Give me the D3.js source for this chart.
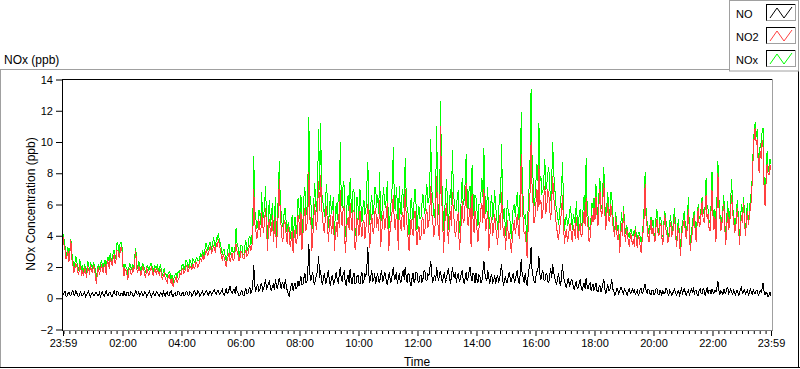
<!DOCTYPE html>
<html><head><meta charset="utf-8">
<script src="https://cdn.jsdelivr.net/npm/d3@7"></script>
<style>
html,body{margin:0;padding:0;background:#fff;overflow:hidden}
svg{display:block;font-family:"Liberation Sans",Arial,sans-serif}
</style></head><body>
<svg id="c" width="800" height="369"></svg>
<script>
// ---- data ----
const seriesNames = ["NO", "NO2", "NOx"];
const seriesColors = ["#000000", "#ff4040", "#00ff00"];
const yTicks = [-2, 0, 2, 4, 6, 8, 10, 12, 14];
const xTickMinutes = [0, 121, 241, 361, 481, 601, 721, 841, 961, 1081, 1201, 1321, 1440];
const xTickLabels = ["23:59", "02:00", "04:00", "06:00", "08:00", "10:00", "12:00", "14:00", "16:00", "18:00", "20:00", "22:00", "23:59"];
const stepMinutes = 2; // one sample every 2 minutes, starting 23:59

const NO2 = [
3.9,3.4,3.1,2.5,2.7,3.0,2.3,2.9,3.7,2.5,2.2,1.6,1.9,2.2,2.1,1.7,1.5,2.1,2.0,1.4,
1.8,1.4,2.0,1.7,1.3,2.0,1.9,1.5,2.1,1.8,1.6,2.1,1.9,1.4,0.9,1.7,2.0,1.5,1.8,2.1,
1.9,1.6,2.2,2.0,1.5,2.4,2.3,1.9,2.6,2.3,2.1,2.6,2.8,2.2,2.5,3.1,3.0,2.6,2.9,3.3,
3.0,2.0,1.4,1.9,1.8,1.5,1.2,1.8,1.9,1.6,1.5,2.0,1.7,2.4,3.0,1.9,1.6,2.0,1.9,1.4,
1.7,2.0,1.9,1.5,1.3,1.9,1.8,1.4,1.6,1.9,2.0,1.6,1.4,1.9,1.8,1.5,1.9,1.6,1.5,1.8,
1.6,1.2,1.4,1.6,1.3,1.1,1.0,1.4,1.5,1.2,0.9,1.3,0.7,1.0,1.2,1.4,1.0,1.2,1.3,1.6,
1.5,1.8,1.9,1.6,1.7,2.0,2.1,1.7,1.8,2.1,2.0,1.8,2.2,2.0,1.9,2.3,2.3,2.0,2.1,2.4,
2.5,2.3,2.8,2.5,2.6,3.0,3.1,2.7,2.9,3.2,3.3,2.9,3.0,3.4,3.2,2.9,3.5,3.3,3.8,3.4,
3.1,2.7,2.4,2.8,2.6,2.3,2.0,2.5,2.7,2.9,2.3,2.6,2.9,2.4,2.5,3.0,3.5,3.0,2.8,2.4,
2.6,3.0,2.9,2.6,2.5,2.9,3.1,2.7,2.8,3.2,3.4,3.0,3.3,3.9,7.0,4.8,4.4,3.8,4.0,5.1,
4.6,3.9,5.5,4.7,4.2,5.0,5.8,4.5,3.0,4.6,5.1,4.0,4.4,5.3,3.6,4.5,5.2,3.2,4.3,5.6,
7.6,5.2,4.5,3.6,3.9,5.0,4.8,4.0,3.5,4.6,4.2,3.3,3.7,4.3,2.9,3.9,4.4,3.5,3.8,5.3,
4.9,4.0,5.5,3.1,4.1,5.2,5.8,4.3,4.6,5.4,8.1,5.0,5.2,3.0,3.9,5.1,6.0,4.7,4.4,5.8,
7.5,5.6,7.9,5.8,5.1,4.4,4.2,5.5,5.9,4.6,3.6,4.8,5.3,4.1,4.7,5.6,3.0,4.2,4.9,3.9,
5.4,4.5,6.9,5.0,4.6,5.9,5.7,2.9,3.8,4.9,5.2,4.4,6.1,5.0,4.3,5.6,5.5,3.1,3.6,5.1,
4.7,4.0,5.6,4.6,3.9,4.8,5.0,3.8,4.4,5.3,6.0,4.4,3.2,4.6,5.4,4.3,4.1,5.5,5.8,4.5,
5.2,4.3,6.3,3.3,4.0,5.1,5.6,4.4,4.6,5.7,6.1,3.0,3.6,4.8,5.0,5.9,6.6,4.7,4.4,5.4,
4.9,3.1,5.8,4.7,4.3,5.5,5.3,4.4,7.0,5.3,4.6,3.8,3.0,4.2,5.1,4.4,4.0,5.2,5.6,4.3,
3.4,4.2,4.6,3.7,3.9,5.0,5.2,4.1,4.3,5.3,5.7,4.5,4.8,5.6,7.2,5.4,5.0,4.0,4.1,5.7,
7.8,5.0,4.2,3.7,11.0,6.4,5.3,2.9,4.4,5.5,6.1,4.5,3.5,4.8,5.6,4.6,6.8,5.5,4.8,3.9,
4.4,5.2,5.5,3.1,3.7,4.9,6.2,4.8,5.0,6.1,7.4,5.5,4.6,5.3,5.8,3.3,6.7,5.0,4.2,5.6,
5.1,4.4,3.6,4.5,4.8,5.7,6.1,4.8,7.0,5.2,4.3,5.0,5.6,3.0,3.9,4.7,5.2,4.0,4.5,5.4,
4.6,4.0,3.4,4.5,5.3,4.4,6.8,4.9,4.0,4.6,3.1,4.1,5.0,3.8,4.2,3.5,2.9,3.9,4.5,5.0,
4.1,4.7,5.4,4.4,3.8,5.6,9.2,6.0,5.0,4.1,4.3,3.5,2.6,4.4,5.6,6.8,10.0,7.2,6.1,4.8,
5.2,6.1,7.0,5.6,8.5,6.0,6.3,5.1,5.5,6.5,7.2,5.4,5.9,6.9,6.8,5.6,5.0,6.2,7.8,6.4,
6.0,5.0,4.6,3.9,3.8,4.5,4.9,5.7,6.6,4.6,3.5,4.2,4.4,3.6,3.9,4.6,4.8,4.0,3.6,4.7,
4.3,3.8,5.2,4.4,3.7,4.5,4.8,3.9,4.1,5.0,5.6,4.6,6.4,5.1,4.5,3.6,3.9,4.7,5.3,4.9,
5.8,5.0,6.5,5.4,4.6,5.9,7.0,5.6,5.2,6.3,7.4,5.5,4.4,5.3,6.1,5.0,4.9,6.0,5.6,4.7,
4.4,3.9,5.2,4.3,3.7,4.4,2.9,3.8,4.8,4.0,5.6,4.3,3.6,4.4,4.2,3.5,3.3,4.1,4.0,3.4,
3.8,3.3,4.4,3.7,3.2,4.0,3.9,3.3,2.9,3.7,4.3,5.2,7.3,5.0,4.6,3.9,3.6,4.4,5.0,4.1,
4.5,4.0,3.6,4.5,5.1,4.2,4.0,4.7,4.8,3.9,3.4,4.5,5.3,4.4,4.2,3.6,3.7,4.4,4.9,4.0,
4.1,4.6,5.2,4.0,3.3,4.2,4.6,3.6,2.7,3.9,4.4,4.8,5.0,4.1,3.8,4.7,5.7,4.2,3.0,3.8,
4.2,4.8,5.3,4.2,3.6,4.9,5.8,4.6,4.7,5.5,6.2,5.0,4.9,5.7,6.6,5.1,5.4,4.5,4.3,5.6,
6.9,5.3,4.4,5.2,3.6,5.5,8.0,5.9,5.2,4.3,4.7,5.5,6.0,4.5,3.4,4.6,5.5,4.4,4.8,5.7,
6.6,5.4,5.0,4.2,4.4,5.3,5.8,4.5,3.4,4.6,5.3,4.8,6.1,5.0,4.0,4.8,5.6,4.7,5.2,5.8,
6.2,7.6,9.3,10.5,10.9,9.8,10.2,8.7,8.0,9.4,8.9,10.1,9.6,7.0,5.9,7.4,8.6,8.0,7.9,8.5,
8.2];

const NO = [
0.2,0.35,0.45,0.15,0.1,0.3,0.4,0.2,0.15,0.4,0.5,0.25,0.2,0.45,0.35,0.15,0.1,0.3,0.4,0.2,
0.15,0.3,0.4,0.1,0.2,0.35,0.45,0.2,0.1,0.3,0.35,0.15,0.15,0.4,0.4,0.2,0.2,0.35,0.1,0.3,
0.4,0.2,0.15,0.35,0.45,0.2,0.2,0.4,0.35,0.15,0.1,0.3,0.5,0.25,0.2,0.45,0.4,0.2,0.15,0.35,
0.3,0.15,0.45,0.25,0.15,0.35,0.4,0.15,0.2,0.4,0.35,0.2,0.1,0.3,0.55,0.3,0.25,0.4,0.15,0.3,
0.4,0.2,0.15,0.4,0.35,0.1,0.2,0.35,0.45,0.25,0.1,0.3,0.4,0.15,0.2,0.4,0.35,0.2,0.15,0.35,
0.3,0.15,0.45,0.25,0.15,0.35,0.4,0.15,0.2,0.4,0.5,0.2,0.1,0.3,0.35,0.15,0.2,0.45,0.4,0.2,
0.15,0.3,0.4,0.15,0.2,0.4,0.45,0.2,0.15,0.4,0.35,0.15,0.2,0.45,0.5,0.2,0.25,0.45,0.4,0.15,
0.2,0.35,0.45,0.2,0.25,0.45,0.5,0.25,0.2,0.4,0.45,0.2,0.3,0.5,0.55,0.3,0.25,0.5,0.5,0.25,
0.3,0.45,0.55,0.25,0.2,0.4,0.6,0.3,0.35,0.6,0.8,0.4,0.3,0.5,0.55,0.3,0.75,0.45,0.35,0.15,
0.2,0.4,0.5,0.2,0.15,0.45,0.6,0.3,0.3,0.55,0.7,0.35,0.4,0.9,2.1,0.8,0.5,0.7,0.9,0.45,
0.5,0.8,1.0,0.5,0.6,0.9,1.2,0.6,0.7,1.0,1.1,0.6,0.5,0.8,0.9,0.5,1.2,0.8,0.6,1.0,
1.3,0.9,0.6,1.0,0.9,0.6,1.2,0.8,0.5,0.3,0.1,0.5,0.8,1.0,0.5,0.8,1.0,0.6,0.7,1.1,
0.8,1.1,1.4,0.9,0.9,1.3,1.6,1.0,1.0,1.8,3.5,1.6,1.1,1.4,1.7,1.0,0.9,1.3,1.5,1.9,
2.7,1.3,1.8,1.0,0.9,1.4,1.6,0.9,1.1,1.5,1.8,1.0,0.8,1.3,1.5,0.9,1.0,1.4,1.7,1.1,
1.0,1.5,2.0,1.2,1.1,1.6,1.7,1.0,0.8,1.3,1.5,1.0,1.9,1.2,0.9,1.4,1.6,0.9,1.0,1.4,
1.5,1.0,0.9,1.4,1.7,1.0,1.1,1.6,1.4,2.0,3.3,1.5,1.0,1.4,1.8,1.1,1.2,1.6,0.9,1.3,
1.6,1.1,1.0,1.5,1.8,1.1,1.2,1.7,1.5,1.0,0.9,1.4,1.7,1.0,1.1,1.6,2.0,1.2,1.3,1.7,
0.9,1.3,1.6,1.0,1.1,1.5,1.8,1.2,2.0,1.4,1.0,1.6,1.5,1.0,0.8,1.3,1.6,1.0,1.2,1.7,
1.6,1.1,1.0,1.4,1.5,1.0,1.2,1.7,1.8,1.2,1.1,1.6,1.4,1.9,2.4,1.5,1.0,1.3,1.5,1.1,
2.0,1.4,1.1,1.6,1.7,1.2,1.0,1.5,1.6,1.0,1.2,1.7,1.9,1.3,0.9,1.4,2.0,1.5,1.3,1.7,
1.0,1.4,1.6,1.1,1.2,1.6,1.8,1.2,0.9,1.3,1.7,1.1,1.3,1.7,2.0,1.4,1.1,1.6,1.5,1.0,
1.6,1.2,1.0,1.5,1.4,1.0,1.1,1.7,2.4,1.6,1.3,1.1,1.8,1.3,0.9,1.4,1.5,1.0,1.1,1.5,
0.9,1.3,1.5,1.0,1.2,1.7,2.2,1.3,0.8,1.2,1.4,1.0,1.0,1.5,1.7,1.1,1.1,1.4,1.6,1.0,
1.2,1.5,1.8,1.1,0.9,1.6,2.5,1.5,1.3,1.0,1.6,1.1,0.8,1.4,1.9,2.2,3.3,1.8,1.4,1.1,
1.0,1.4,1.7,1.9,2.7,1.5,1.2,1.6,1.8,1.2,1.1,1.5,1.6,1.1,1.0,1.5,1.9,1.3,2.2,1.6,
1.4,1.0,0.9,1.3,1.6,1.0,0.8,1.4,2.2,1.3,1.2,0.8,0.7,1.1,1.3,0.8,0.9,1.2,1.1,0.7,
0.6,0.9,1.1,0.6,0.7,1.0,1.2,0.7,0.5,0.8,1.0,0.6,1.3,0.8,0.6,0.9,1.0,0.5,0.7,0.9,
0.5,0.7,1.0,0.5,0.4,0.7,0.8,0.4,0.6,0.9,1.2,0.6,0.3,0.6,0.9,0.5,0.5,0.8,1.2,0.6,
0.5,0.2,0.3,0.6,0.6,0.3,0.4,0.7,0.7,0.4,0.3,0.6,0.5,0.3,0.2,0.5,0.6,0.3,0.4,0.6,
0.4,0.6,0.2,0.4,0.5,0.2,0.3,0.6,0.6,0.3,0.4,0.7,0.9,0.5,0.3,0.6,0.5,0.3,0.2,0.5,
0.5,0.2,0.3,0.6,0.6,0.3,0.2,0.5,0.4,0.2,0.5,0.3,0.3,0.6,0.6,0.3,0.2,0.5,0.4,0.2,
0.3,0.5,0.6,0.3,0.2,0.4,0.5,0.2,0.4,0.6,0.3,0.5,0.6,0.3,0.2,0.4,0.5,0.2,0.4,0.6,
0.4,0.6,0.3,0.5,0.5,0.2,0.2,0.5,0.6,0.3,0.3,0.6,0.5,0.2,0.4,0.7,0.3,0.5,0.5,0.3,
0.6,0.4,0.3,0.5,0.4,0.7,1.1,0.5,0.2,0.5,0.4,0.2,0.6,0.4,0.3,0.6,0.7,0.3,0.4,0.6,
0.4,0.2,0.6,0.3,0.2,0.5,0.5,0.2,0.3,0.6,0.7,0.3,0.4,0.6,0.2,0.4,0.5,0.2,0.3,0.6,
0.4,0.2,0.6,0.3,0.3,0.5,0.5,0.2,0.3,0.5,0.4,0.6,1.0,0.4,0.2,0.4,0.3,0.1,0.2,0.4,
0.15];

const NOx = [
4.1,3.8,3.4,2.7,2.9,3.3,2.6,3.1,3.8,2.9,2.5,1.9,2.2,2.7,2.4,1.9,1.8,2.4,2.3,1.6,
2.1,1.7,2.2,1.8,1.6,2.4,2.2,1.7,2.3,2.1,1.9,2.3,2.1,1.8,1.2,1.9,2.2,1.9,2.1,2.4,
2.2,1.8,2.4,2.4,1.8,2.6,2.6,2.3,2.9,2.5,2.4,2.9,3.1,2.5,2.8,3.6,3.4,2.8,3.5,3.6,
3.3,2.2,1.7,2.2,2.0,1.9,1.5,2.0,2.2,2.0,1.8,2.2,1.9,2.7,3.2,2.2,1.9,2.4,2.1,1.7,
2.0,2.2,2.1,1.9,1.6,2.0,2.1,1.8,1.9,2.2,2.2,1.9,1.7,2.1,2.0,1.9,2.2,1.8,1.7,2.2,
1.8,1.4,1.7,1.9,1.5,1.5,1.3,1.6,1.7,1.6,1.2,1.5,1.0,1.3,1.5,1.6,1.3,1.7,1.6,1.8,
1.8,2.1,2.2,1.8,2.0,2.4,2.4,1.9,2.1,2.5,2.3,2.0,2.5,2.4,2.3,2.5,2.6,2.4,2.4,2.6,
2.8,2.7,3.1,2.7,2.9,3.5,3.5,3.0,3.2,3.6,3.6,3.1,3.4,3.9,3.6,3.2,3.9,3.8,4.2,3.7,
3.5,3.2,2.8,3.1,3.1,2.7,2.4,2.8,3.2,3.5,2.8,3.0,3.3,2.9,3.0,3.3,4.5,3.5,3.3,2.6,
3.0,3.4,3.4,2.8,2.8,3.4,3.7,3.0,3.2,3.8,4.0,3.4,3.8,4.8,9.1,5.6,5.2,4.5,4.6,5.6,
5.6,4.7,6.8,5.2,5.2,5.9,7.2,5.1,3.8,5.6,6.3,4.6,5.3,6.1,4.2,5.0,6.5,4.0,5.1,6.6,
8.8,6.1,5.4,4.6,4.6,5.6,5.8,4.8,4.1,4.9,4.5,3.8,4.4,5.3,3.4,4.7,5.2,4.1,4.7,6.4,
5.8,5.1,6.6,4.0,4.9,6.5,7.1,5.3,5.6,7.2,11.6,6.6,6.4,4.3,4.8,6.1,7.4,6.0,5.5,7.7,
10.8,6.9,11.2,6.8,6.3,5.8,5.2,6.4,7.3,6.1,4.5,5.8,6.6,5.4,5.8,6.5,3.8,5.6,6.1,5.0,
6.7,6.0,10.0,6.2,5.8,7.5,7.2,3.9,4.8,6.2,6.6,5.4,7.7,6.2,5.4,7.0,6.8,4.0,4.5,6.5,
5.9,5.0,7.0,6.0,4.9,5.8,6.3,5.4,5.5,7.3,8.7,5.9,4.7,6.0,6.6,5.4,5.5,7.1,7.1,5.8,
6.6,5.4,8.1,4.8,5.1,6.2,7.1,6.1,5.8,6.7,7.5,4.4,4.6,5.8,6.3,7.5,9.7,5.9,5.6,7.1,
6.1,4.4,7.2,5.7,5.3,7.0,6.6,5.6,9.0,6.7,5.7,5.4,3.9,5.2,6.4,5.7,5.0,6.2,7.0,6.0,
4.4,5.3,5.9,5.1,5.1,6.0,6.7,5.8,5.4,6.5,7.3,6.1,6.1,7.5,10.2,6.9,6.4,5.3,5.2,6.8,
11.0,6.4,5.4,5.3,12.6,7.6,6.6,4.3,5.5,6.5,7.6,6.2,4.4,6.1,7.0,6.0,9.5,7.0,6.0,5.6,
5.6,6.6,6.9,4.2,4.7,6.5,7.7,6.0,6.3,7.4,9.2,6.6,5.7,7.0,7.2,4.7,8.5,6.6,5.2,6.6,
6.4,5.6,4.6,6.0,6.0,6.7,7.7,6.5,9.6,6.8,5.4,6.1,7.1,4.3,4.9,6.1,6.6,5.0,5.7,6.9,
5.8,5.3,4.4,5.5,6.7,6.1,9.9,6.2,5.1,5.8,4.0,5.1,6.3,5.3,5.4,4.6,3.8,5.3,5.8,6.0,
5.2,6.2,6.8,5.5,4.8,7.2,11.9,7.5,6.3,5.1,5.4,4.6,3.4,5.8,7.1,9.0,13.4,9.0,7.7,5.9,
6.4,7.5,8.6,7.5,11.2,7.5,7.8,6.7,6.8,7.7,8.9,6.9,7.3,8.0,8.4,7.1,6.2,7.5,10.0,8.0,
7.3,6.0,5.7,5.2,4.7,5.5,6.1,7.1,8.7,5.9,4.3,5.0,5.4,4.7,4.8,5.4,5.9,5.2,4.4,5.4,
5.1,4.7,6.2,5.0,4.3,5.5,5.7,4.6,4.8,5.8,6.6,5.2,9.0,5.9,5.2,4.5,4.4,5.2,6.1,5.8,
6.4,5.7,7.3,5.9,5.0,6.6,7.7,6.0,5.7,7.2,8.4,6.1,4.7,5.9,6.8,5.5,5.3,6.8,6.8,5.3,
4.9,4.1,5.5,4.9,4.3,4.7,3.3,4.5,5.5,4.4,5.9,4.9,4.1,4.7,4.4,4.0,3.9,4.4,4.4,4.0,
4.2,3.9,4.6,4.1,3.7,4.2,4.2,3.9,3.5,4.0,4.7,5.9,8.1,5.5,4.9,4.5,4.1,4.7,5.2,4.6,
5.0,4.2,3.9,5.1,5.7,4.5,4.2,5.2,5.2,4.1,3.9,4.8,5.6,5.0,4.8,3.9,3.9,4.9,5.3,4.2,
4.4,5.1,5.8,4.3,3.5,4.6,5.1,3.8,3.1,4.5,4.7,5.3,5.6,4.4,4.0,5.1,6.5,4.4,3.4,4.4,
4.6,5.4,5.6,4.7,4.1,5.1,6.0,5.1,5.3,5.8,6.5,5.6,5.4,5.9,7.7,5.8,5.7,5.0,4.8,5.9,
8.1,5.7,4.7,5.7,4.0,6.2,8.8,6.4,5.4,4.8,5.1,5.7,6.6,4.9,3.7,5.2,6.2,4.7,5.2,6.3,
7.6,5.6,5.6,4.5,4.6,5.8,6.3,4.7,3.7,5.2,6.0,5.1,6.5,5.6,4.2,5.2,6.1,4.9,5.5,6.4,
6.8,7.8,9.8,10.8,11.3,10.3,10.8,8.9,8.6,9.9,9.6,10.7,10.9,7.4,6.5,7.8,9.4,8.1,8.5,8.9,
8.6];

// ---- chart ----
const svg = d3.select("#c");
const plot = {x0: 62, x1: 772, y0: 79, y1: 330};

const x = d3.scaleLinear().domain([0, 1440]).range([63, 771]);
const y = d3.scaleLinear().domain([-2, 14]).range([329.5, 79.5]);

// outer panel
svg.append("line").attr("x1",0).attr("x2",730).attr("y1",69.5).attr("y2",69.5).attr("stroke","#a0a0a0");
svg.append("line").attr("x1",0.5).attr("x2",0.5).attr("y1",69).attr("y2",368).attr("stroke","#a0a0a0");
svg.append("line").attr("x1",0).attr("x2",800).attr("y1",367.5).attr("y2",367.5).attr("stroke","#000");
svg.append("line").attr("x1",798.5).attr("x2",798.5).attr("y1",71).attr("y2",368).attr("stroke","#000");

svg.append("text").attr("x",4).attr("y",64).attr("font-size","12px").attr("fill","#000").text("NOx (ppb)");

// data lines
const defs = svg.append("defs");
defs.append("clipPath").attr("id","clip").append("rect")
  .attr("x",plot.x0+1).attr("y",plot.y0+1).attr("width",plot.x1-plot.x0-1).attr("height",plot.y1-plot.y0-1);

const line = d3.line().x((d,i) => x(i*stepMinutes)).y(d => y(d));
const g = svg.append("g").attr("clip-path","url(#clip)");
const drawOrder = [[NOx, seriesColors[2]], [NO2, seriesColors[1]], [NO, seriesColors[0]]];
drawOrder.forEach(([arr, col]) => {
  g.append("path").datum(arr).attr("d", line)
    .attr("fill","none").attr("stroke",col).attr("stroke-width",1)
    .attr("shape-rendering","crispEdges");
});

// plot frame
svg.append("line").attr("x1",plot.x0).attr("x2",plot.x1+1).attr("y1",plot.y0+0.5).attr("y2",plot.y0+0.5).attr("stroke","#000");
svg.append("line").attr("x1",plot.x1+0.5).attr("x2",plot.x1+0.5).attr("y1",plot.y0).attr("y2",plot.y1+1).attr("stroke","#a0a0a0");
svg.append("line").attr("x1",plot.x0).attr("x2",plot.x1+1).attr("y1",plot.y1+0.5).attr("y2",plot.y1+0.5).attr("stroke","#808080");
svg.append("line").attr("x1",plot.x0+0.5).attr("x2",plot.x0+0.5).attr("y1",plot.y0).attr("y2",plot.y1+1).attr("stroke","#000");

// y axis
const yAxis = svg.append("g").attr("transform",`translate(${plot.x0},0)`)
  .call(d3.axisLeft(y).tickValues(yTicks).tickSize(6).tickPadding(3).tickFormat(d3.format("d")));
yAxis.select(".domain").remove();
yAxis.selectAll("line").attr("stroke","#000");
yAxis.selectAll("text").attr("font-family","Liberation Sans, Arial, sans-serif").attr("font-size","11px").attr("fill","#000");

// x axis (minor + major)
const minor = d3.range(1, 1440, 12).filter(m => !xTickMinutes.includes(m));
const xMinor = svg.append("g").attr("transform",`translate(0,${plot.y1+1})`)
  .call(d3.axisBottom(x).tickValues(minor).tickSize(3).tickFormat(""));
xMinor.select(".domain").remove();
xMinor.selectAll("line").attr("stroke","#000");
const xAxis = svg.append("g").attr("transform",`translate(0,${plot.y1+1})`)
  .call(d3.axisBottom(x).tickValues(xTickMinutes).tickSize(5).tickPadding(3)
    .tickFormat((d,i) => xTickLabels[i]));
xAxis.select(".domain").remove();
xAxis.selectAll("line").attr("stroke","#000");
xAxis.selectAll("text").attr("font-family","Liberation Sans, Arial, sans-serif").attr("font-size","11px").attr("fill","#000");

// axis titles
svg.append("text").attr("x",417).attr("y",365.5).attr("text-anchor","middle").attr("font-size","12px").attr("fill","#000").text("Time");
svg.append("text").attr("transform","translate(35,204) rotate(-90)").attr("text-anchor","middle")
  .attr("font-size","12px").attr("fill","#000").text("NOx Concentration (ppb)");

// legend
const lg = svg.append("g");
lg.append("rect").attr("x",729.5).attr("y",0.5).attr("width",69).attr("height",70.5).attr("fill","#fff").attr("stroke","#a0a0a0");
const rowY = [4, 27, 50];
seriesNames.forEach((name, i) => {
  const yy = rowY[i];
  lg.append("text").attr("x",736).attr("y",yy+13.5).attr("font-size","11px").attr("fill","#000").text(name);
  lg.append("rect").attr("x",766.5).attr("y",yy+0.5).attr("width",29).attr("height",16).attr("fill","#fff").attr("stroke","#000");
  lg.append("line").attr("x1",766.5).attr("x2",796).attr("y1",yy+16.5).attr("y2",yy+16.5).attr("stroke","#a0a0a0");
  lg.append("line").attr("x1",795.5).attr("x2",795.5).attr("y1",yy).attr("y2",yy+17).attr("stroke","#a0a0a0");
  const pts = [[770, yy+14], [777, yy+4], [784, yy+14], [792, yy+3]];
  lg.append("path").attr("d", d3.line()(pts)).attr("fill","none").attr("stroke", seriesColors[i]).attr("stroke-width",1);
});
</script>
</body></html>
